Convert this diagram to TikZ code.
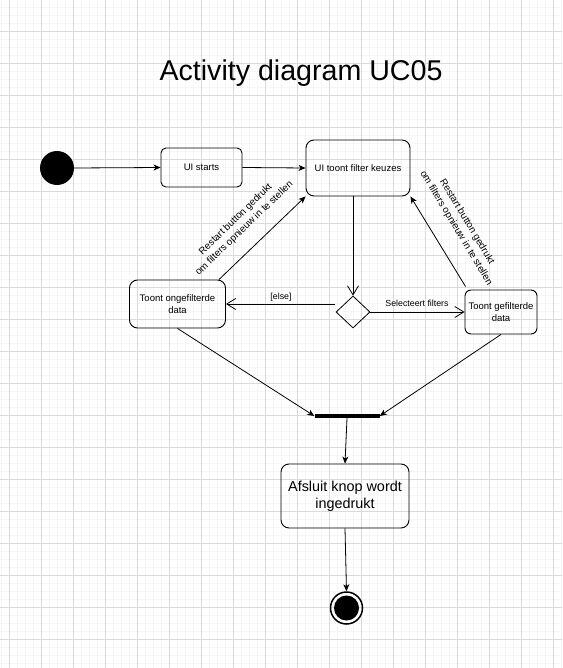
\documentclass[tikz,border=0pt]{standalone}
\usepackage{fontspec}
\setmainfont{Liberation Sans}
\usetikzlibrary{arrows.meta,shapes.geometric}
\definecolor{gminor}{RGB}{246,246,246}
\definecolor{gmajor}{RGB}{218,218,218}
\begin{document}
\begin{tikzpicture}[x=1pt,y=-1pt,
  act/.style={draw, rounded corners=8pt, line width=0.9pt, align=center, inner sep=2pt, font=\fontsize{9.5}{11.5}\selectfont},
  lbl/.style={font=\fontsize{8.8}{11}\selectfont, align=center, inner sep=1pt},
  rlbl/.style={font=\fontsize{9.8}{12.5}\selectfont, align=center, inner sep=1pt},
  flow/.style={line width=0.8pt, -{Stealth[length=7pt,width=6pt,inset=2pt]}},
  oflow/.style={line width=0.8pt, -{Straight Barb[length=9pt,width=11pt]}},
]
\useasboundingbox (0,0) rectangle (562,668);
\fill[white] (0,0) rectangle (562,668);
% grid
\foreach \gx in {1,9,...,561} \draw[gminor, line width=0.6pt] (\gx,0) -- (\gx,668);
\foreach \gy in {-1,7,...,667} \draw[gminor, line width=0.6pt] (0,\gy) -- (562,\gy);
\foreach \gx in {9,41,...,561} \draw[gmajor, line width=0.6pt] (\gx,0) -- (\gx,668);
\foreach \gy in {31,63,...,667} \draw[gmajor, line width=0.6pt] (0,\gy) -- (562,\gy);

% title
\node[anchor=base, font=\fontsize{28.6}{31}\selectfont, inner sep=0pt] (title) at (301,81) {Activity diagram UC05};

% nodes
\node[circle, fill=black, minimum size=34pt, inner sep=0pt] (init) at (57,168) {};
\node[act, rounded corners=5pt, minimum width=81pt, minimum height=39pt] (uistarts) at (201.5,167.5) {UI starts};
\node[act, minimum width=104pt, minimum height=56pt] (uitoont) at (358,168) {UI toont filter keuzes};
\node[diamond, draw, line width=0.8pt, minimum width=34pt, minimum height=32pt, inner sep=0pt] (dia) at (353,312) {};
\node[act, minimum width=96pt, minimum height=48pt] (ongef) at (177.5,304) {Toont ongefilterde\\data};
\node[act, rounded corners=6pt, minimum width=72pt, minimum height=44pt] (gef) at (501,312) {Toont gefilterde\\data};
\node[fill=black, minimum width=65pt, minimum height=4pt, inner sep=0pt] (bar) at (347,416) {};
\node[act, font=\fontsize{14.4}{17}\selectfont, minimum width=128pt, minimum height=64pt] (afsluit) at (345,496) {Afsluit knop wordt\\ingedrukt};
\node[circle, draw, line width=1.5pt, minimum size=32pt, inner sep=0pt] (final) at (346.5,608) {};
\fill (final.center) circle (12.5);

% connectors
\draw[flow] (init.east) -- (uistarts.west);
\draw[flow] (uistarts.east) -- (uitoont.west);
\draw[oflow] (uitoont.south -| dia.north) -- (dia.north);
\draw[oflow] ([yshift=8pt,xshift=-1pt]dia.west) -- (ongef.east);
\draw[oflow] (dia.east) -- (gef.west);
\draw[flow] ([xshift=-7pt]ongef.north east) -- (uitoont.south west);
\draw[flow] ([xshift=1pt,yshift=3pt]gef.north west) -- (uitoont.south east);
\draw[flow] (ongef.south) -- (bar.west);
\draw[flow] (gef.south) -- (bar.east);
\draw[flow] (bar.south) -- (afsluit.north);
\draw[flow] (afsluit.south) -- (final.north);

% labels
\node[lbl] (lelse) at (281,297) {[else]};
\node[lbl] (lsel) at (417,303) {Selecteert filters};
\node[rlbl, rotate=44] (lrestl) at (240,224) {Restart button gedrukt\\om filters opnieuw in te stellen};
\node[rlbl, rotate=-59] (lrestr) at (461.5,225) {Restart button gedrukt\\om filters opnieuw in te stellen};
\end{tikzpicture}
\end{document}
